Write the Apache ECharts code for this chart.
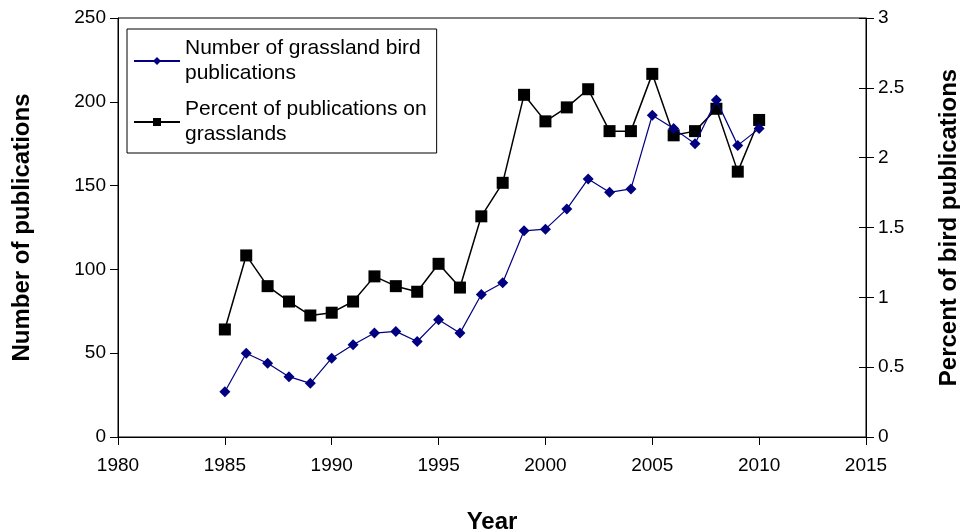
<!DOCTYPE html>
<html>
<head>
<meta charset="utf-8">
<script src="https://cdn.jsdelivr.net/npm/echarts@6/dist/echarts.min.js"></script>
<style>
html,body{margin:0;padding:0;background:#fff;}
#chart{width:960px;height:532px;}
</style>
</head>
<body>
<div id="chart"></div>
<script>
var years = [1985,1986,1987,1988,1989,1990,1991,1992,1993,1994,1995,1996,1997,1998,1999,2000,2001,2002,2003,2004,2005,2006,2007,2008,2009,2010];
var pubCount = [27,50,44,36,32,47,55,62,63,57,70,62,85,92,123,124,136,154,146,148,192,184,175,201,174,184];
var pubPercent = [0.77,1.30,1.08,0.97,0.87,0.89,0.97,1.15,1.08,1.04,1.24,1.07,1.58,1.82,2.45,2.26,2.36,2.49,2.19,2.19,2.60,2.16,2.19,2.35,1.90,2.27];
var xTicks = [1980,1985,1990,1995,2000,2005,2010,2015];

var countData = [];
var percentData = [];
for (var i = 0; i < years.length; i++) {
	countData.push([years[i], pubCount[i]]);
	percentData.push([years[i], pubPercent[i]]);
}

var font = 'Liberation Sans, Arial, sans-serif';
var chart = echarts.init(document.getElementById('chart'));
var option = {
	backgroundColor: '#fff',
	animation: false,
	grid: {
		left: 118, right: 94, top: 18, bottom: 95,
		outerBoundsMode: 'none', containLabel: false,
		show: true, borderColor: '#000', borderWidth: 1
	},
	legend: {
		orient: 'vertical',
		left: 127, top: 29,
		padding: [7, 10, 6, 6],
		borderColor: '#000', borderWidth: 1,
		itemWidth: 46, itemHeight: 10,
		itemGap: 11,
		textStyle: { fontFamily: font, fontSize: 21, color: '#000', lineHeight: 25 },
		formatter: function(name){
			if (name.indexOf('Number') === 0) return 'Number of grassland bird\npublications';
			return 'Percent of publications on\ngrasslands';
		},
		data: ['Number of grassland bird publications', 'Percent of publications on grasslands']
	},
	xAxis: {
		type: 'value', min: 1980, max: 2015, interval: 5,
		name: 'Year', nameLocation: 'middle', nameGap: 73,
		nameTextStyle: { fontFamily: font, fontSize: 24, fontWeight: 'bold', color: '#000' },
		axisLine: { show: true, onZero: false, lineStyle: { color: '#000' } },
		axisTick: { show: true, length: 8, lineStyle: { color: '#000' } },
		axisLabel: { fontFamily: font, fontSize: 19, color: '#000', margin: 19,
			formatter: function(v){ return xTicks.indexOf(v) >= 0 ? String(v) : ''; } },
		splitLine: { show: false }
	},
	yAxis: [{
		type: 'value', min: 0, max: 250, interval: 50, position: 'left',
		name: 'Number of publications', nameLocation: 'middle', nameGap: 84, nameRotate: 90,
		nameTextStyle: { fontFamily: font, fontSize: 24, fontWeight: 'bold', color: '#000' },
		axisLine: { show: true, lineStyle: { color: '#000' } },
		axisTick: { show: true, length: 8, lineStyle: { color: '#000' } },
		axisLabel: { fontFamily: font, fontSize: 19, color: '#000', margin: 12 },
		splitLine: { show: false }
	}, {
		type: 'value', min: 0, max: 3, interval: 0.5, position: 'right',
		name: 'Percent of bird publications', nameLocation: 'middle', nameGap: 71, nameRotate: 90,
		nameTextStyle: { fontFamily: font, fontSize: 24, fontWeight: 'bold', color: '#000' },
		axisLine: { show: true, lineStyle: { color: '#000' } },
		axisTick: { show: true, length: 8, lineStyle: { color: '#000' } },
		axisLabel: { fontFamily: font, fontSize: 19, color: '#000', margin: 12 },
		splitLine: { show: false }
	}, {
		// inner half of the right ticks
		type: 'value', min: 0, max: 3, interval: 0.5, position: 'right',
		axisLine: { show: false },
		axisTick: { show: true, inside: true, length: 7, lineStyle: { color: '#000' } },
		axisLabel: { show: false },
		splitLine: { show: false }
	}],
	series: [{
		name: 'Number of grassland bird publications',
		type: 'line', yAxisIndex: 0,
		data: countData,
		symbol: 'diamond', symbolSize: 11,
		itemStyle: { color: '#000080' },
		lineStyle: { color: '#000080', width: 1.2 },
		z: 3
	}, {
		name: 'Percent of publications on grasslands',
		type: 'line', yAxisIndex: 1,
		data: percentData,
		symbol: 'rect', symbolSize: 12,
		itemStyle: { color: '#000' },
		lineStyle: { color: '#000', width: 1.5 },
		z: 2
	}]
};
chart.setOption(option);
</script>
</body>
</html>
